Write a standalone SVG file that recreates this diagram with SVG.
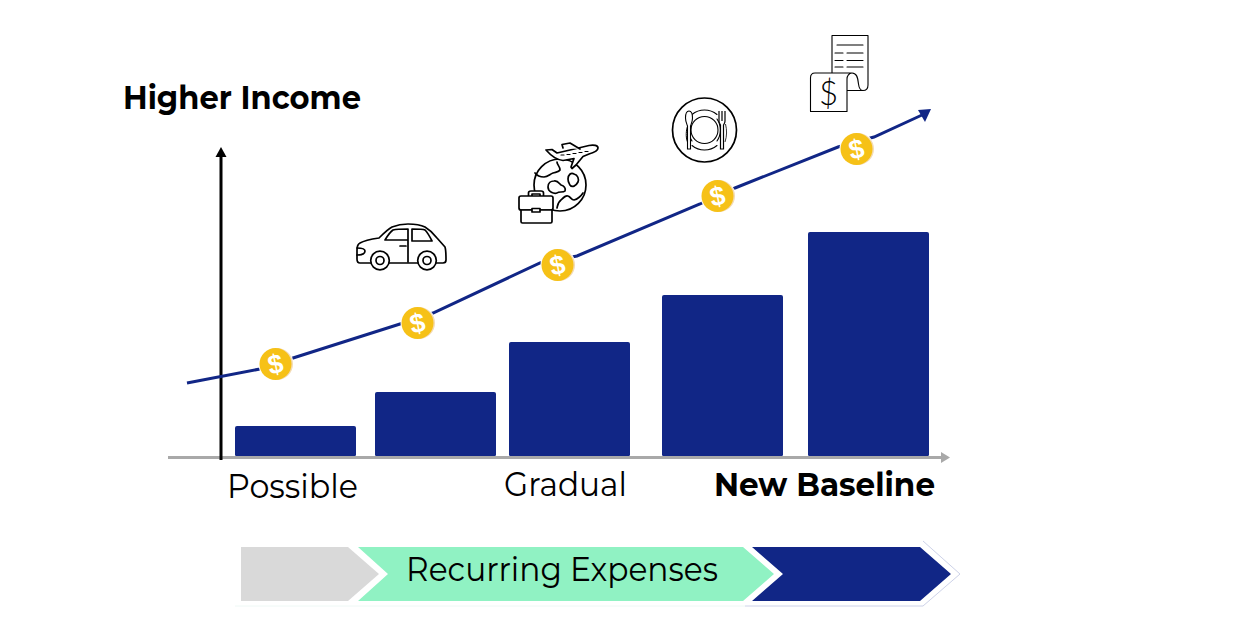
<svg xmlns="http://www.w3.org/2000/svg" width="1250" height="625" viewBox="0 0 1250 625">
<style>
.t{font-family:"Montserrat","Lato","Liberation Sans",sans-serif;fill:#000}
.b{fill:#112686}
.i{fill:none;stroke:#000;stroke-width:1.7;stroke-linejoin:round;stroke-linecap:round}
.w{fill:#fff}
.h{fill:none;stroke:#000;stroke-width:1.1;stroke-linecap:round;stroke-linejoin:round}
.c{fill:#f6c117}
.r{fill:#f3dcb8}
.d{font-family:"Liberation Sans",sans-serif;font-weight:700;font-size:27px;fill:#fff;text-anchor:middle}
</style>
<rect width="1250" height="625" fill="#fff"/>
<g id="bars">
<rect class="b" x="235" y="426" width="121" height="30.500" rx="2"/>
<rect class="b" x="375" y="392" width="121" height="64.500" rx="2"/>
<rect class="b" x="509" y="342" width="121" height="114.500" rx="2"/>
<rect class="b" x="662" y="295" width="121" height="161.500" rx="2"/>
<rect class="b" x="808" y="232" width="121" height="224.500" rx="2"/>
</g>
<g id="connectors" fill="none">
<path d="M168 457.500H942" stroke="#a9a9a9" stroke-width="3"/>
<path d="M941 452L950 457.500L941 463Z" fill="#a9a9a9"/>
<path d="M221 460V152" stroke="#000" stroke-width="3"/>
<path d="M215.500 157L221 147L226.500 157Z" fill="#000"/>
<path d="M187 383L260 369L293 358L400 324L433 313L540 263L577 256L700 204L735 188L838 147L874 137L922 115" stroke="#112686" stroke-width="3"/>
<path d="M918 110L931 109L925 122Z" fill="#112686"/>
</g>
<g id="coins">
<g id="coin1"><circle cx="276" cy="364" r="17.500" fill="#fff"/><circle class="r" cx="277" cy="364" r="16"/><circle class="c" cx="275.500" cy="364" r="16"/><text class="d" x="275.500" y="373.500" transform="rotate(-12 275.500 364)">$</text></g>
<g id="coin2"><circle cx="418" cy="323" r="17.500" fill="#fff"/><circle class="r" cx="419" cy="323" r="16"/><circle class="c" cx="417.500" cy="323" r="16"/><text class="d" x="417.500" y="332.500" transform="rotate(-12 417.500 323)">$</text></g>
<g id="coin3"><circle cx="558" cy="265" r="17.500" fill="#fff"/><circle class="r" cx="559" cy="265" r="16"/><circle class="c" cx="557.500" cy="265" r="16"/><text class="d" x="557.500" y="274.500" transform="rotate(-12 557.500 265)">$</text></g>
<g id="coin4"><circle cx="718" cy="196" r="17.500" fill="#fff"/><circle class="r" cx="719" cy="196" r="16"/><circle class="c" cx="717.500" cy="196" r="16"/><text class="d" x="717.500" y="205.500" transform="rotate(-12 717.500 196)">$</text></g>
<g id="coin5"><circle cx="857" cy="149" r="17.500" fill="#fff"/><circle class="r" cx="858" cy="149" r="16"/><circle class="c" cx="856.500" cy="149" r="16"/><text class="d" x="856.500" y="158.500" transform="rotate(-12 856.500 149)">$</text></g>
</g>
<g id="car" class="i">
<path d="M370.500 263H360C358 263 357 261 357 259V250C357 247 358 244 360 243C365 240 372 239 379 238C384 233 388 229 392 227C397 225 402 224 408 224C415 224 421 225 425 227C430 230 434 234 437 238L445 247C446 250 446 255 446 260C446 262 445 263 443 263H436.500M417.500 263H389.500"/>
<circle cx="380" cy="260.500" r="9.300"/><circle cx="380" cy="260.500" r="4"/>
<circle cx="427" cy="260.500" r="9.300"/><circle cx="427" cy="260.500" r="4"/>
<path d="M385 240C388 235 390 232 393 230C397 229 402 229 408 229V240ZM412 229C418 229 423 229 425 230C428 233 430 237 432 241H412ZM408 229V262M400 246H406M357 248C361 248 365 249 365 251C365 254 361 255 357 255"/>
</g>
<g id="travel" class="i">
<circle cx="560" cy="185" r="26"/>
<path d="M535 173C538 177 541 177 544 177C548 177 550 174 553 173C556 172 559 172 560 170C560 166 557 165 557 162"/>
<path d="M548 187C548 183 551 181 554 181C557 180 559 183 561 185C564 186 566 188 565 191C563 193 559 191 557 193C554 194 548 192 548 187Z"/>
<path d="M568 179C568 175 571 172 574 174C578 175 579 179 578 182C576 186 572 188 570 185C569 183 568 182 568 179Z"/>
<path d="M557 208C558 204 558 202 561 200C564 197 566 195 568 196C571 197 571 200 574 200C578 199 581 196 583 193"/>
<path class="w" d="M546 150L552 149.500L557 153L570 150L589 145.500C594 144.500 598 145.500 598 148C598 151 594 152.500 589 154L583 156.500L576 165L572 168.500L571 167L574 158.500L563 160.500C558 160 553 158 546 150Z" fill="#fff"/>
<path class="w" d="M563 148L562 144.500L570 143L580 149" fill="#fff"/>
<path d="M561 155H564M567 154.500H570M573 153.500H576M579 152.500H582M585 151.500H588" stroke-width="1.200"/>
<path d="M528.500 196V193C528.500 191.500 529.500 191 531 191H541C542.500 191 543.500 191.500 543.500 193V196M532 196V194H540V196" fill="#fff"/>
<path d="M521 196H551C552.500 196 553 197 553 198V208C553 209.500 552 210 551 210H521C520 210 519 209.500 519 208V198C519 197 519.500 196 521 196Z" fill="#fff"/>
<path d="M521 210V221.500C521 222.500 521.500 223 522.500 223H550.500C551.500 223 552 222.500 552 221.500V210Z" fill="#fff"/>
<rect x="532" y="208.500" width="8" height="3.500" fill="#fff"/>
</g>
<g id="plate">
<circle class="i" cx="704.500" cy="130" r="32"/>
<circle class="h" cx="704.500" cy="130" r="13.500"/>
<path class="h" d="M692 114.500A19.500 19.500 0 0 1 717 114.500M692 145.500A19.500 19.500 0 0 0 717 145.500M692 119A19.500 19.500 0 0 0 692 141M717 119A19.500 19.500 0 0 1 717 141"/>
<path d="M688 125C686 130 685.500 137 687.500 142" fill="none" stroke="#000" stroke-width="1"/>
<path d="M689 111C692 111 692.500 115 692.500 118C692.500 122 691 124.500 690.500 126V149H687.500V126C687 124.500 685.500 122 685.500 118C685.500 115 686 111 689 111Z" fill="#fff" stroke="#000" stroke-width="1.100"/>
<path d="M719 111V121C719 123 720 124 720.500 125V149H723.500V125C724 124 725 123 725 121V111M722 111V121" fill="#fff" stroke="#000" stroke-width="1.200"/>
<path d="M725.500 124C727 130 727 136 725 142" fill="none" stroke="#000" stroke-width="0.800"/>
</g>
<g id="receipt" class="h">
<path d="M832 73V35.500H868V85C868 89 866 90.500 863 90.500C860 90.500 859 88 858.500 84C858 78 857 73 852 73H815C812 73 810.500 75 810.500 78V111.500H847V79C847 76 849 73 852 73M847 90.500H863"/>
<path d="M837 45H863M835 53H843M847 53H863M835 60.500H843M847 60.500H863M835 67H843M847 67H863"/>
<text x="828.500" y="105" font-family="Lato,Liberation Sans,sans-serif" font-weight="300" font-size="33" text-anchor="middle" fill="#000" stroke="none">$</text>
</g>
<g id="chevrons">
<path d="M745 606H923L960 574L923 541" fill="none" stroke="#cdd2e8" stroke-width="1"/>
<path d="M235 606H745" fill="none" stroke="#eef8f5" stroke-width="1"/>
<polygon id="chevron-gray" points="241,547 348,547 379,574 348,601 241,601" fill="#d9d9d9"/>
<polygon id="chevron-green" points="358,547 743,547 774,574 743,601 358,601 388,574" fill="#90f2c3"/>
<polygon id="chevron-navy" points="752,547 920,547 951,574 920,601 752,601 783,574" class="b"/>
</g>
<g id="labels">
<text class="t" x="123" y="109" font-size="33" font-weight="700" textLength="238" lengthAdjust="spacingAndGlyphs">Higher Income</text>
<text class="t" x="227" y="498" font-size="33" textLength="131" lengthAdjust="spacingAndGlyphs">Possible</text>
<text class="t" x="504" y="496" font-size="33" textLength="123" lengthAdjust="spacingAndGlyphs">Gradual</text>
<text class="t" x="714" y="496" font-size="33" font-weight="700" textLength="221" lengthAdjust="spacingAndGlyphs">New Baseline</text>
<text class="t" x="406" y="581" font-size="33" textLength="312" lengthAdjust="spacingAndGlyphs">Recurring Expenses</text>
</g>
</svg>
